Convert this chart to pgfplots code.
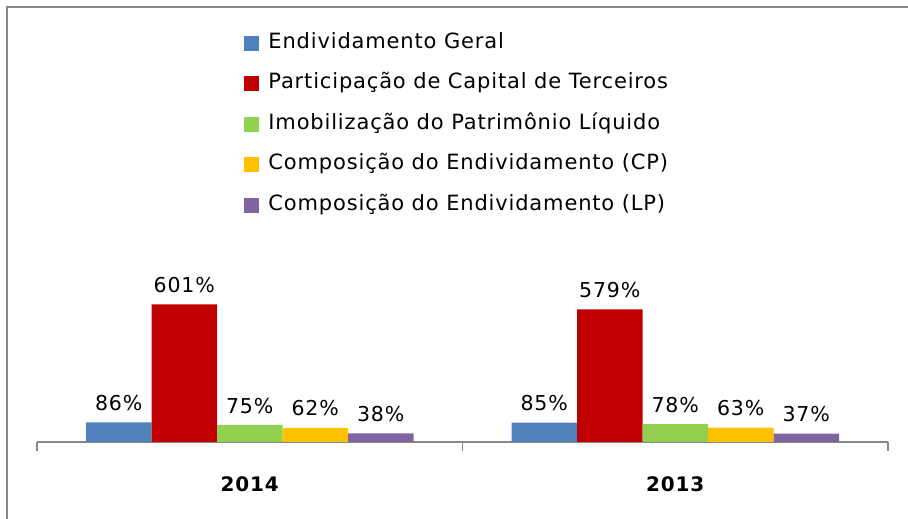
\documentclass[border=0pt]{standalone}
\usepackage{pgfplots}
\pgfplotsset{compat=1.18}
\usepackage{fontspec}
\setmainfont[LetterSpace=4]{DejaVu Sans}

\definecolor{cblue}{HTML}{4F81BD}
\definecolor{cred}{HTML}{C00000}
\definecolor{cgreen}{HTML}{92D050}
\definecolor{cyellow}{HTML}{FFC000}
\definecolor{cpurple}{HTML}{8064A2}
\definecolor{frame}{HTML}{878787}

\begin{document}
\begin{tikzpicture}
\path[use as bounding box] (0,0) rectangle (908pt,519pt);
\draw[frame, line width=2.5pt] (7pt,0) -- (7pt,512pt) -- (908pt,512pt);

\begin{axis}[
  at={(37pt,77pt)}, anchor=south west,
  scale only axis,
  width=851pt, height=412pt,
  xmin=-0.5, xmax=1.5, ymin=0, ymax=1800,
  enlargelimits=false,
  axis x line=bottom, axis y line=none,
  axis line style={draw=frame, line width=1.5pt, -},
  ybar=0pt, bar width=65.5pt,
  /pgf/number format/assume math mode=true,
  xtick={0,1}, xticklabels={2014,2013},
  major tick length=0pt,
  xticklabel style={font=\fontsize{20}{24}\selectfont\bfseries, yshift=-31pt},
  extra x ticks={-0.5,0.5,1.5},
  extra x tick labels={},
  extra x tick style={major tick length=9pt, tick align=outside,
    tick style={draw=frame, line width=1.5pt}},
  nodes near coords={\pgfmathprintnumber{\pgfplotspointmeta}\%},
  every node near coord/.append style={font=\fontsize{20.5}{24}\selectfont, yshift=8pt},
  clip=false,
  legend style={at={(0.24,1.002)}, anchor=north west, draw=none, fill=none,
    font=\fontsize{21}{24}\selectfont, row sep=16.5pt,
    nodes={text height=15pt, text depth=5pt, inner ysep=2pt},
    /tikz/every odd column/.append style={column sep=7pt}},
  legend cell align=left,
  legend image code/.code={\path[#1,draw=none] (0pt,-7.5pt) rectangle (15pt,7.5pt);},
]
\addplot[fill=cblue, draw=none] coordinates {(0,86) (1,85)};
\addplot[fill=cred, draw=none] coordinates {(0,601) (1,579)};
\addplot[fill=cgreen, draw=none] coordinates {(0,75) (1,78)};
\addplot[fill=cyellow, draw=none] coordinates {(0,62) (1,63)};
\addplot[fill=cpurple, draw=none] coordinates {(0,38) (1,37)};
\legend{Endividamento Geral, Participação de Capital de Terceiros,
  Imobilização do Patrimônio Líquido, Composição do Endividamento (CP),
  Composição do Endividamento (LP)}
\end{axis}
\end{tikzpicture}
\end{document}
